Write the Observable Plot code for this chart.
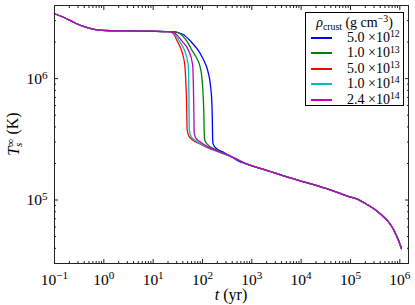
<!DOCTYPE html>
<html><head><meta charset="utf-8">
<script src="https://cdn.jsdelivr.net/npm/d3@7"></script>
<script src="https://cdn.jsdelivr.net/npm/@observablehq/plot@0.6"></script>
<style>
body{margin:0;background:#fff;}
#wrap{position:relative;width:415px;height:305px;font-family:"Liberation Serif","DejaVu Serif",serif;color:#000;}
#legend{position:absolute;left:305px;top:12px;width:97px;height:92px;border:1px solid #000;background:#fff;font-size:14px;box-sizing:content-box;}
#legend .title{position:absolute;left:0;width:97px;text-align:center;top:1px;line-height:18px;white-space:nowrap;}
#legend .row{position:absolute;left:0;width:97px;height:15px;line-height:15px;white-space:nowrap;}
#legend .sw{position:absolute;left:5px;width:21px;top:7px;height:2px;}
#legend .lab{position:absolute;left:41px;top:0;}
sup{font-size:0.7em;vertical-align:0;position:relative;top:-0.5em;}
sub{font-size:0.7em;vertical-align:0;position:relative;top:0.3em;}
svg text{font-family:"Liberation Serif","DejaVu Serif",serif;}
</style></head><body><div id="wrap"></div>
<script>
// legend / series metadata
const densityMantissa = ["5.0", "1.0", "5.0", "1.0", "2.4"];
const densityExponent = [12, 13, 13, 14, 14];
const seriesColors = ["#0000ff", "#008000", "#ff0000", "#00bfbf", "#bf00bf"];

// tick values
const majorX = [1e-1, 1e0, 1e1, 1e2, 1e3, 1e4, 1e5, 1e6];
const majorY = [1e5, 1e6];

// curve data as [log10 t(yr), log10 T(K)]
const earlyPts = [[-1, 6.534], [-0.776, 6.497], [-0.573, 6.456], [-0.37, 6.423], [-0.167, 6.403], [0.138, 6.394], [0.6, 6.392], [1.0, 6.390], [1.3, 6.387]];
const tailPts = [[2.917, 5.293], [3.3, 5.245], [3.797, 5.18], [4.0, 5.156], [4.5, 5.095], [4.955, 5.03], [5.15, 5.006], [5.35, 4.96], [5.49, 4.924], [5.62, 4.88], [5.75, 4.83], [5.83, 4.786], [5.9, 4.735], [5.966, 4.675], [6.033, 4.60]];
const blueMid = [[1.45, 6.383], [1.6, 6.365], [1.764, 6.306], [1.9, 6.24], [1.967, 6.197], [2.05, 6.13], [2.11, 6.06], [2.16, 5.95], [2.19, 5.8], [2.2, 5.65], [2.205, 5.52], [2.215, 5.462], [2.27, 5.428], [2.4, 5.398], [2.55, 5.365], [2.713, 5.325]];
const greenMid = [[1.45, 6.385], [1.6, 6.35], [1.697, 6.30], [1.78, 6.238], [1.88, 6.17], [1.94, 6.115], [1.99, 6.0], [2.015, 5.85], [2.028, 5.7], [2.035, 5.55], [2.047, 5.492], [2.1, 5.458], [2.25, 5.418], [2.4, 5.39], [2.6, 5.352]];
const redMid = [[1.38, 6.378], [1.425, 6.362], [1.49, 6.307], [1.58, 6.225], [1.64, 6.115], [1.665, 5.95], [1.678, 5.8], [1.684, 5.65], [1.688, 5.585], [1.72, 5.53], [1.8, 5.495], [1.95, 5.462], [2.1, 5.432], [2.3, 5.40], [2.51, 5.37]];
const cyanMid = [[1.4, 6.378], [1.45, 6.36], [1.53, 6.31], [1.63, 6.238], [1.71, 6.115], [1.722, 5.95], [1.726, 5.8], [1.729, 5.65], [1.733, 5.575], [1.77, 5.522], [1.85, 5.492], [1.95, 5.466], [2.1, 5.434], [2.3, 5.401], [2.51, 5.37]];
const magentaMid = [[1.42, 6.378], [1.48, 6.36], [1.6, 6.30], [1.71, 6.238], [1.80, 6.115], [1.815, 5.95], [1.822, 5.8], [1.827, 5.65], [1.832, 5.548], [1.87, 5.507], [1.95, 5.48], [2.1, 5.44], [2.3, 5.405], [2.51, 5.372]];

const mids = [blueMid, greenMid, redMid, cyanMid, magentaMid];
const rows = [];
mids.forEach((mid, i) => {
  [...earlyPts, ...mid, ...tailPts].forEach(([lt, lT]) => rows.push({s: i, t: 10 ** lt, T: 10 ** lT}));
});

const minorX = [];
for (let k = -1; k <= 6; k++) for (let m = 2; m <= 9; m++) { const v = m * 10 ** k; if (v <= 1.5e6) minorX.push(v); }
const minorY = [];
for (let k = 4; k <= 6; k++) for (let m = 2; m <= 9; m++) { const v = m * 10 ** k; if (v >= 3e4 && v <= 4e6) minorY.push(v); }

const axisColor = "#222";
const expOf = v => Math.round(Math.log10(v));

const plot = Plot.plot({
  width: 415, height: 305,
  marginLeft: 54, marginRight: 7, marginTop: 5, marginBottom: 42,
  x: {type: "log", domain: [0.1, 1.5e6]},
  y: {type: "log", domain: [3e4, 4e6]},
  style: {fontFamily: "'Liberation Serif', 'DejaVu Serif', serif", fontSize: "15.5px", background: "white", color: "#000", overflow: "visible"},
  marks: [
    ...mids.map((_, i) => Plot.line(rows.filter(r => r.s === i), {x: "t", y: "T", stroke: seriesColors[i], strokeWidth: 1.3, curve: "monotone-x"})),
    // major ticks inward on all sides
    Plot.axisX(majorX, {anchor: "bottom", tickSize: 4, dy: -4, fill: "none", stroke: axisColor, label: null}),
    Plot.axisX(majorX, {anchor: "top", tickSize: 4, dy: 4, fill: "none", stroke: axisColor, label: null}),
    Plot.axisY(majorY, {anchor: "left", tickSize: 4, dx: 4, fill: "none", stroke: axisColor, label: null}),
    Plot.axisY(majorY, {anchor: "right", tickSize: 4, dx: -4, fill: "none", stroke: axisColor, label: null}),
    // minor ticks
    Plot.axisX(minorX, {anchor: "bottom", tickSize: 2, dy: -2, fill: "none", stroke: axisColor, label: null}),
    Plot.axisX(minorX, {anchor: "top", tickSize: 2, dy: 2, fill: "none", stroke: axisColor, label: null}),
    Plot.axisY(minorY, {anchor: "left", tickSize: 2, dx: 2, fill: "none", stroke: axisColor, label: null}),
    Plot.axisY(minorY, {anchor: "right", tickSize: 2, dx: -2, fill: "none", stroke: axisColor, label: null}),
    // tick labels
    Plot.axisX(majorX, {anchor: "bottom", tickSize: 0, tickPadding: 10, tickFormat: v => "10^" + expOf(v), label: null, fill: "#000"}),
    Plot.axisY(majorY, {anchor: "left", tickSize: 0, tickPadding: 7, tickFormat: v => "10^" + expOf(v), label: null, fill: "#000"}),
    Plot.frame({stroke: axisColor, strokeWidth: 1})
  ]
});

const wrap = document.getElementById("wrap");
wrap.appendChild(plot);

// render superscripts in tick labels
d3.select(plot).selectAll("text").each(function () {
  const el = d3.select(this);
  const s = el.text();
  if (s.startsWith("10^")) {
    const e = s.slice(3).replace("-", "\u2212");
    el.text("");
    el.append("tspan").text("10");
    el.append("tspan").attr("dy", "-0.45em").attr("font-size", "0.72em").text(e);
  }
});

// axis titles
const svg = d3.select(plot);
const xl = svg.append("text").attr("x", 231).attr("y", 300).attr("text-anchor", "middle").attr("font-size", 16).attr("fill", "#000");
xl.append("tspan").attr("font-style", "italic").text("t");
xl.append("tspan").text(" (yr)");
const yl = svg.append("text").attr("transform", "translate(19,134) rotate(-90)").attr("text-anchor", "middle").attr("font-size", 16).attr("fill", "#000");
yl.append("tspan").attr("font-style", "italic").text("T");
yl.append("tspan").attr("dy", "-0.45em").attr("font-size", 11).text("\u221e");
yl.append("tspan").attr("dx", -8).attr("dy", "0.75em").attr("font-size", 11).attr("font-style", "italic").text("s");
yl.append("tspan").attr("dx", 4).attr("dy", "-0.3em").text(" (K)");

// legend
const legend = d3.select(wrap).append("div").attr("id", "legend");
legend.append("div").attr("class", "title").html('<i>ρ</i><sub>crust</sub> (g cm<sup>−3</sup>)');
densityMantissa.forEach((m, i) => {
  const row = legend.append("div").attr("class", "row").style("top", (17 + i * 15.4) + "px");
  row.append("div").attr("class", "sw").style("background", seriesColors[i]);
  row.append("div").attr("class", "lab").html(`${m} ×10<sup>${densityExponent[i]}</sup>`);
});
</script>
</body></html>
